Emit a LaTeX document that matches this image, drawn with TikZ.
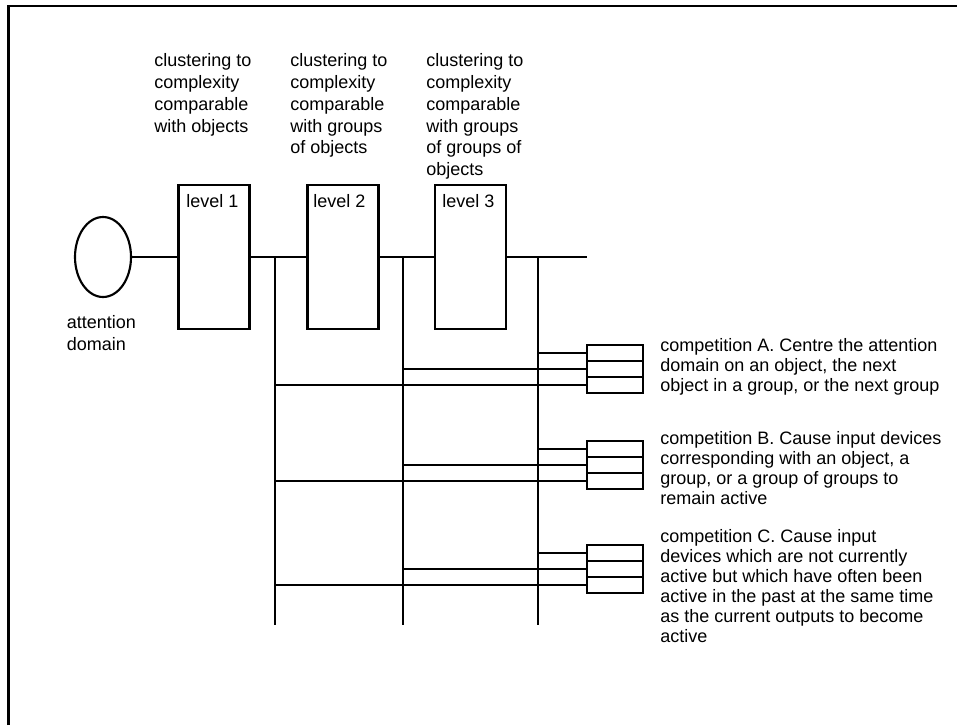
\documentclass[tikz,border=0pt]{standalone}
\usepackage{fontspec}
\setmainfont{Liberation Sans}
\usetikzlibrary{shapes.geometric}

\begin{document}
\begin{tikzpicture}[x=0.75pt,y=-0.75pt,
  wire/.style={line width=1.9pt},
  levelbox/.style={draw, line width=1.9pt, minimum width=53.5pt, minimum height=108pt, inner sep=0pt},
  cell/.style={draw, line width=1.9pt, minimum width=42pt, minimum height=12pt, inner sep=0pt},
  % multi-line labels are placed by the baseline of their last line
  txt/.style={anchor=base west, inner sep=0pt, align=left, font={\fontsize{13.5pt}{16.3pt}\selectfont}},
  comptxt/.style={txt, font={\fontsize{13.5pt}{15pt}\selectfont}},
]
\useasboundingbox (0,0) rectangle (957,725);

% frame
\coordinate (fbl) at (8.5,725);
\coordinate (ftl) at (8.5,6);
\coordinate (ftr) at (957,6);
\draw[line width=2.2pt] (fbl) -- (ftl) -- (ftr);

% attention domain and the three levels
\node[ellipse, draw, line width=1.6pt, minimum width=42pt, minimum height=60pt, inner sep=0pt] (dom) at (103,257) {};
\node[levelbox] (lv1) at (214,257) {};
\node[levelbox] (lv2) at (343,257) {};
\node[levelbox] (lv3) at (470.5,257) {};

% bus junctions
\coordinate (j1) at (275,257);
\coordinate (j2) at (403,257);
\coordinate (j3) at (538,257);
\coordinate (busend) at (587,257);
\coordinate (b1) at (275,625);
\coordinate (b2) at (403,625);
\coordinate (b3) at (538,625);

\draw[wire] (dom) -- (lv1);
\draw[wire] (lv1) -- (lv2);
\draw[wire] (lv2) -- (lv3);
\draw[wire] (lv3.east) -- (busend);
\draw[wire] (j1) -- (b1);
\draw[wire] (j2) -- (b2);
\draw[wire] (j3) -- (b3);

% competition cells
\foreach \g/\y in {a/353, b/449, c/553} {
  \node[cell] (\g1) at (615,\y) {};
  \node[cell] (\g2) at (615,\y+16) {};
  \node[cell] (\g3) at (615,\y+32) {};
  \draw[wire] (j3 |- \g1) -- (\g1);
  \draw[wire] (j2 |- \g2) -- (\g2);
  \draw[wire] (j1 |- \g3) -- (\g3);
}

% labels
\node[txt] (c1) at (154,132.1) {clustering to\\complexity\\comparable\\with objects};
\node[txt] (c2) at (290,153.8) {clustering to\\complexity\\comparable\\with groups\\of objects};
\node[txt] (c3) at (426,175.5) {clustering to\\complexity\\comparable\\with groups\\of groups of\\objects};
\node[txt] (l1) at (186,207) {level 1};
\node[txt] (l2) at (313,207) {level 2};
\node[txt] (l3) at (442,207) {level 3};
\node[txt, font={\fontsize{13.5pt}{16.5pt}\selectfont}] (ad) at (66.5,350.7) {attention\\domain};
\node[comptxt] (ta) at (660,391.7) {competition A. Centre the attention\\domain on an object, the next\\object in a group, or the next group};
\node[comptxt] (tb) at (660,504.7) {competition B. Cause input devices\\corresponding with an object, a\\group, or a group of groups to\\remain active};
\node[comptxt] (tc) at (660,642.7) {competition C. Cause input\\devices which are not currently\\active but which have often been\\active in the past at the same time\\as the current outputs to become\\active};
\end{tikzpicture}
\end{document}
